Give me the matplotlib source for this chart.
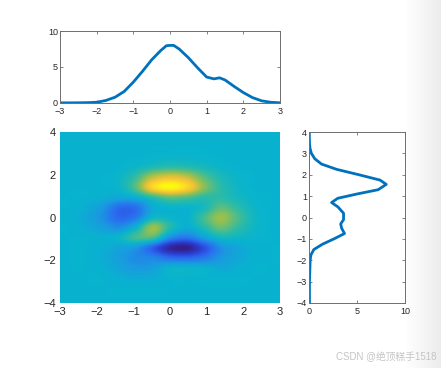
import numpy as np
import matplotlib
matplotlib.use("Agg")
import matplotlib.pyplot as plt
from matplotlib.colors import LinearSegmentedColormap

plt.rcParams['font.family'] = ['Liberation Sans', 'Noto Sans CJK SC', 'DejaVu Sans']

# line profile above the map
top_x = [-3, -2.75, -2.5, -2.25, -2, -1.75, -1.5, -1.25, -1, -0.75, -0.5, -0.25, -0.1, 0, 0.1, 0.25,
         0.5, 0.75, 1, 1.2, 1.35, 1.5, 1.75, 2, 2.25, 2.5, 2.75, 3]
top_v = [0.02, 0.02, 0.03, 0.05, 0.1, 0.35, 0.8, 1.6, 2.9, 4.4, 6.0, 7.3, 7.95, 8.0, 8.0, 7.5,
         6.3, 4.9, 3.6, 3.35, 3.5, 3.2, 2.3, 1.45, 0.75, 0.3, 0.1, 0.03]

# line profile right of the map
side_y = [-4, -3, -2, -1.75, -1.5, -1.25, -1, -0.75, -0.5, -0.3, -0.1, 0.2, 0.5, 0.7, 0.9, 1.1,
          1.3, 1.55, 1.75, 2, 2.25, 2.5, 2.75, 3, 3.25, 3.5, 4]
side_v = [0.05, 0.05, 0.12, 0.2, 0.5, 1.4, 2.6, 3.7, 3.4, 3.3, 3.6, 3.6, 3.0, 2.35, 3.0, 5.0,
          7.2, 8.05, 7.4, 5.2, 2.9, 1.3, 0.6, 0.25, 0.1, 0.05, 0.03]

# map values read at 0.5 steps, first row is y=4
map_x = [-3, 3]
map_y = [-4, 4]
map_v = np.array([
    [0, 0, 0, 0, 0, 0, 0, 0, 0, 0, 0, 0, 0],
    [0, 0, 0, 0, 0, 0, 0, 0, 0, 0, 0, 0, 0],
    [0, 0, 0, 0, 0, 0.1, 0.15, 0.15, 0.1, 0, 0, 0, 0],
    [0, 0, 0, 0, 0.3, 0.9, 1.3, 1.1, 0.6, 0.2, 0, 0, 0],
    [0, 0, 0, 0.2, 1.5, 4.2, 5.2, 4.4, 2.2, 0.8, 0.2, 0, 0],
    [0, 0, 0, 0.2, 2.2, 6.6, 8.1, 6.6, 3.2, 1.2, 0.3, 0, 0],
    [0, 0, -0.2, -0.6, -0.2, 1.2, 2.4, 2.0, 1.2, 1.2, 0.5, 0.1, 0],
    [0, -0.3, -1.2, -3.0, -2.8, -0.4, 0.1, 0.1, 0.6, 2.2, 1.2, 0.2, 0],
    [-0.1, -0.5, -1.6, -3.1, -2.4, 0.3, 0.2, -0.1, 1.7, 3.5, 1.9, 0.4, 0],
    [0, -0.3, -0.9, -1.6, 0.1, 3.5, 1.0, -0.3, 0.9, 2.5, 1.3, 0.3, 0],
    [0, 0, -0.1, 0.2, 1.7, 1.8, -1.6, -2.6, -1.0, 0.4, 0.3, 0.1, 0],
    [0, 0, -0.2, -0.7, -1.3, -3.5, -6.0, -6.5, -4.2, -1.6, -0.6, -0.1, 0],
    [0, 0, -0.3, -1.0, -1.8, -2.0, -3.0, -3.2, -2.6, -1.3, -0.6, -0.1, 0],
    [0, 0, -0.1, -0.7, -1.2, -1.0, 0, 0, -0.1, -0.5, -0.2, 0, 0],
    [0, 0, 0, -0.2, -0.4, -0.3, 0, 0, 0, 0, 0, 0, 0],
    [0, 0, 0, 0, 0, 0, 0, 0, 0, 0, 0, 0, 0],
    [0, 0, 0, 0, 0, 0, 0, 0, 0, 0, 0, 0, 0],
])

parula = LinearSegmentedColormap.from_list("parula", [
    (0.0, "#33208c"), (0.12, "#2b3fd2"), (0.24, "#2b6cf0"), (0.36, "#1a9ae0"),
    (0.448, "#08b4ce"), (0.53, "#2cbba6"), (0.68, "#98c04e"), (0.8, "#ecc038"),
    (0.9, "#fdd52a"), (1.0, "#f9fb0e")])

W, H = 441, 368
line_c = "#0072bd"
spine_c = "#6e6e6e"


def make_ax(x0, y0, x1, y1):
    # pixel box of the axes, y counted from the top
    return fig.add_axes([x0 / W, 1 - y1 / H, (x1 - x0) / W, (y1 - y0) / H])


def style(ax, size):
    ax.tick_params(direction="in", length=2, width=0.6, labelsize=size, pad=1.5,
                   color=spine_c, labelcolor="#262626", top=True, right=True)
    ax.tick_params(axis="x", pad=3)
    for s in ax.spines.values():
        s.set_color(spine_c)
        s.set_linewidth(0.7)


fig = plt.figure(figsize=(W / 100, H / 100), dpi=100)

# grey shadow along the right edge of the screenshot
shade = fig.add_axes([0, 0, 1, 1], zorder=-1)
shade.imshow(np.clip((np.arange(W)[None, :] - 405) / 36, 0, 1), cmap=LinearSegmentedColormap.from_list("s", ["#ffffff", "#ececec"]),
             aspect="auto", vmin=0, vmax=1)
shade.axis("off")

ax1 = make_ax(60, 31, 280, 103)
ax1.plot(top_x, top_v, color=line_c, lw=2)
ax1.set_xlim(-3, 3)
ax1.set_ylim(0, 10)
ax1.set_xticks(range(-3, 4))
ax1.set_yticks([0, 5, 10])
style(ax1, 6.5)

ax2 = make_ax(60, 132, 280, 303)
ax2.imshow(map_v, extent=[map_x[0], map_x[1], map_y[0], map_y[1]], cmap=parula, vmin=-6.5, vmax=8.1,
           aspect="auto", interpolation="catrom")
ax2.set_xticks(range(-3, 4))
ax2.set_yticks(range(-4, 5, 2))
ax2.tick_params(length=0, labelsize=8, pad=3, labelcolor="#262626")
for s in ax2.spines.values():
    s.set_visible(False)

ax3 = make_ax(309, 132, 405, 303)
ax3.plot(side_v, side_y, color=line_c, lw=2)
ax3.set_xlim(0, 10)
ax3.set_ylim(-4, 4)
ax3.set_xticks([0, 5, 10])
ax3.set_yticks(range(-4, 5))
style(ax3, 6.5)

fig.text(336 / W, 1 - 357 / H, "CSDN @绝顶糕手1518", color="#c4c4c4", fontsize=7, va="center")

fig.savefig("out.png", dpi=100)
